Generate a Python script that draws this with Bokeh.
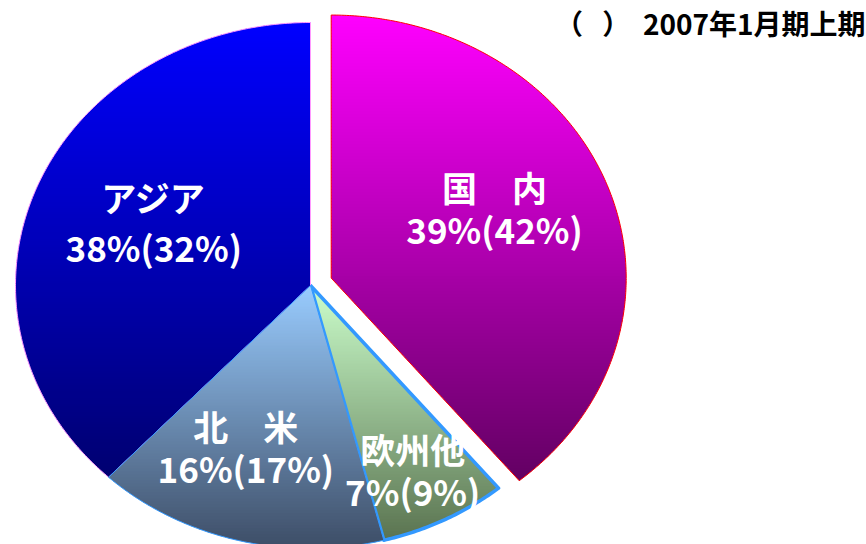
import numpy as np
from bokeh.plotting import figure
from bokeh.models import Range1d, ColumnDataSource
from bokeh.core.properties import value
from bokeh.embed import file_html
from bokeh.resources import INLINE

# ---------------- data ----------------
categories = ["国　内", "欧州他", "北　米", "アジア"]
shares = [39, 7, 16, 38]          # 2007年1月期上期
prev_shares = [42, 9, 17, 32]     # ( ) 前期
title_text = "（\u00a0\u00a0\u00a0）\u00a0\u00a02007年1月期上期"

# ---------------- style ----------------
grad_top = ["#FF00FF", "#CCFFCC", "#99CCFF", "#0000FF"]
grad_bot = ["#620062", "#5A7350", "#3D4D66", "#000070"]
edge_col = ["#FF0000", "#3399FF", "#3399FF", "#FF99FF"]
edge_w = [1.0, 3.5, 1.0, 1.0]
explode = [22, 0, 0, 0]
label_r = [0.61, 0.79, 0.66, 0.58]
label_dang = [-5, 1, 5, 2]
line_gap = [21, 21, 21, 25]
FONT = "Noto Sans CJK JP"

W, H = 866, 544
CX, CY = 310.0, 285.0
RX, RY = 295.0, 263.0

p = figure(width=W, height=H, x_range=Range1d(0, W), y_range=Range1d(H, 0),
           output_backend="svg", toolbar_location=None,
           x_axis_type=None, y_axis_type=None, min_border=0)
p.grid.visible = False
p.outline_line_color = None
p.background_fill_color = "white"
p.border_fill_color = "white"


def hex2rgb(h):
    h = h.lstrip("#")
    return np.array([int(h[i:i + 2], 16) for i in (0, 2, 4)], dtype=float)


def mix(c0, c1, f):
    c = hex2rgb(c0) * (1 - f) + hex2rgb(c1) * f
    return "#%02x%02x%02x" % tuple(int(round(v)) for v in c)


def clip(pts, ylim, keep_ge):
    out = []
    n = len(pts)
    for i in range(n):
        P = pts[i]
        Q = pts[(i + 1) % n]
        inP = P[1] >= ylim if keep_ge else P[1] <= ylim
        inQ = Q[1] >= ylim if keep_ge else Q[1] <= ylim
        if inP:
            out.append(P)
        if inP != inQ:
            t = (ylim - P[1]) / (Q[1] - P[1])
            out.append((P[0] + t * (Q[0] - P[0]), ylim))
    return out


cum = np.concatenate([[0], np.cumsum(shares)]) / sum(shares) * 360.0
order = [0, 1, 3, 2]   # drawing order

polys = {}
centers = {}
for i in range(len(shares)):
    a0, a1 = cum[i], cum[i + 1]
    bis = np.radians((a0 + a1) / 2)
    cx = CX + explode[i] * np.sin(bis)
    cy = CY - explode[i] * np.cos(bis)
    t = np.radians(np.linspace(a0, a1, max(int((a1 - a0) * 2), 8)))
    xs = [cx] + list(cx + RX * np.sin(t))
    ys = [cy] + list(cy - RY * np.cos(t))
    polys[i] = list(zip(xs, ys))
    centers[i] = (cx, cy)

for i in order:
    pts = polys[i]
    ys = [q[1] for q in pts]
    ymin, ymax = min(ys), max(ys)
    step = 3.0
    sx, sy, sc = [], [], []
    y0 = ymin
    while y0 < ymax:
        y1 = y0 + step
        part = clip(clip(pts, y0, True), y1 + 1.0, False)
        if len(part) >= 3:
            f = min(max((y0 + step / 2 - ymin) / (ymax - ymin), 0), 1)
            sx.append([q[0] for q in part])
            sy.append([q[1] for q in part])
            sc.append(mix(grad_top[i], grad_bot[i], f))
        y0 = y1
    p.patches(xs="xs", ys="ys", fill_color="c", line_color=None,
              source=ColumnDataSource(dict(xs=sx, ys=sy, c=sc)))
    p.patch([q[0] for q in pts], [q[1] for q in pts], fill_color=None,
            line_color=edge_col[i], line_width=edge_w[i], line_join="round")

# labels
lx, ly, lt = [], [], []
px, py, pt = [], [], []
for i in range(len(shares)):
    a = np.radians((cum[i] + cum[i + 1]) / 2 + label_dang[i])
    cx, cy = centers[i]
    x = cx + label_r[i] * RX * np.sin(a)
    y = cy - label_r[i] * RY * np.cos(a) - 3
    lx.append(x); ly.append(y - line_gap[i]); lt.append(categories[i])
    px.append(x); py.append(y + line_gap[i]); pt.append(f"{shares[i]}%({prev_shares[i]}%)")

p.text(x="x", y="y", text="t", source=ColumnDataSource(dict(x=lx, y=ly, t=lt)),
       text_color="white", text_font=value(FONT), text_font_style="bold",
       text_font_size=value("35px"), text_align="center", text_baseline="middle")
p.text(x="x", y="y", text="t", source=ColumnDataSource(dict(x=px, y=py, t=pt)),
       text_color="white", text_font=value(FONT), text_font_style="bold",
       text_font_size=value("35px"), text_align="center", text_baseline="middle")

p.text(x=[865], y=[22], text=[title_text], text_color="black",
       text_font=value(FONT), text_font_style="bold", text_font_size=value("28px"),
       text_align="right", text_baseline="middle")

open("out.html", "w").write(file_html(p, INLINE))
